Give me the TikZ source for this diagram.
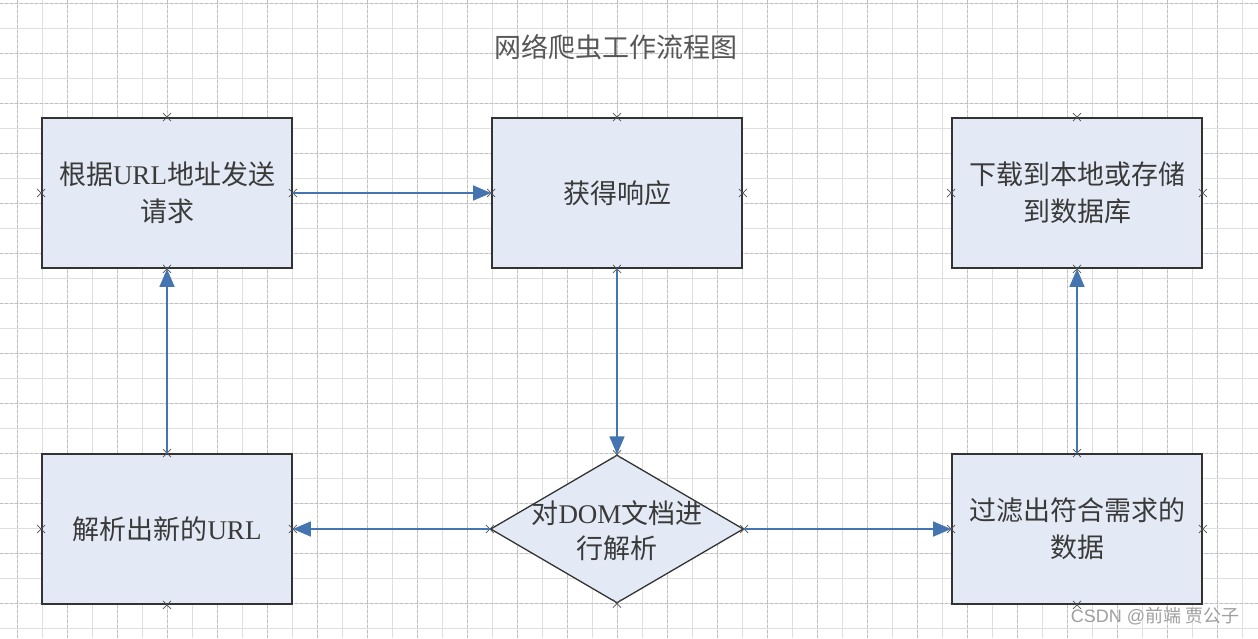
\documentclass[tikz,border=0pt]{standalone}
\usepackage{fontspec}
\setmainfont{Liberation Serif}
\newfontfamily\cjk{Noto Sans CJK SC}
\newfontfamily\wmfont{Liberation Sans}
\usetikzlibrary{arrows.meta,shapes.geometric}
\definecolor{boxfill}{HTML}{E4EAF5}
\definecolor{boxline}{HTML}{333333}
\definecolor{conn}{HTML}{4575B0}
\definecolor{txt}{HTML}{3A3A3A}
\newcommand\latn[1]{{\rmfamily #1}}
\begin{document}
\begin{tikzpicture}[x=1pt,y=-1pt,
  gridminor/.style={draw=gray!25, line width=0.6pt},
  gridmajor/.style={draw=gray!50, line width=0.7pt, dash pattern=on 3pt off 2pt},
  box/.style={draw=boxline, line width=1.8pt, fill=boxfill, minimum width=250pt, minimum height=150pt, inner sep=0pt, align=center, text=txt, font=\fontsize{27}{37}\selectfont\cjk},
  dia/.style={diamond, draw=boxline, line width=1.3pt, fill=boxfill, minimum width=253pt, minimum height=148pt, inner sep=0pt},
  diatext/.style={align=center, text=txt, font=\fontsize{27}{35}\selectfont\cjk},
  arrow/.style={draw=conn, line width=1.6pt, -{Triangle[length=18pt,width=15pt]}},
  cp/.pic={\draw[boxline!85, line width=0.8pt] (-4,-4)--(4,4) (-4,4)--(4,-4);}
]
\useasboundingbox (0,0) rectangle (1258,638);
\fill[white] (0,0) rectangle (1258,638);
% grid
\foreach \k in {0,...,49} \draw[gridminor] ({17+25*\k},0) -- ({17+25*\k},638);
\foreach \k in {0,...,25} \draw[gridminor] (0,{3+25*\k}) -- (1258,{3+25*\k});
\foreach \k in {0,...,24} \draw[gridmajor] ({17+50*\k},0) -- ({17+50*\k},638);
\foreach \k in {0,...,12} \draw[gridmajor] (0,{3+50*\k}) -- (1258,{3+50*\k});

% title
\node[text=txt!85, font=\fontsize{27}{30}\selectfont\cjk] (title) at (616,47) {网络爬虫工作流程图};

% nodes
\node[box] (A) at (167,193) {根据\latn{URL}地址发送\\请求};
\node[box] (B) at (617,193) {获得响应};
\node[box] (C) at (1077,193) {下载到本地或存储\\到数据库};
\node[box] (D) at (167,529) {解析出新的\latn{URL}};
\node[box] (E) at (1077,529) {过滤出符合需求的\\数据};
\node[dia] (P) at (617,529) {};
\node[diatext] (Pt) at (617,531) {对\latn{DOM}文档进\\行解析};

% connection points
\foreach \n in {A,B,C,D,E,P} \foreach \a in {north,south,east,west} \pic at (\n.\a) {cp};

% connectors
\draw[arrow] (A.east) -- (B.west);
\draw[arrow] (B.south) -- (P.north);
\draw[arrow] (P.west) -- (D.east);
\draw[arrow] (P.east) -- (E.west);
\draw[arrow] (D.north) -- (A.south);
\draw[arrow] (E.north) -- (C.south);

% watermark
\node[text=gray!75, font=\fontsize{18}{20}\selectfont] (wm) at (1155,616) {\wmfont CSDN @\cjk 前端 贾公子};
\end{tikzpicture}
\end{document}
